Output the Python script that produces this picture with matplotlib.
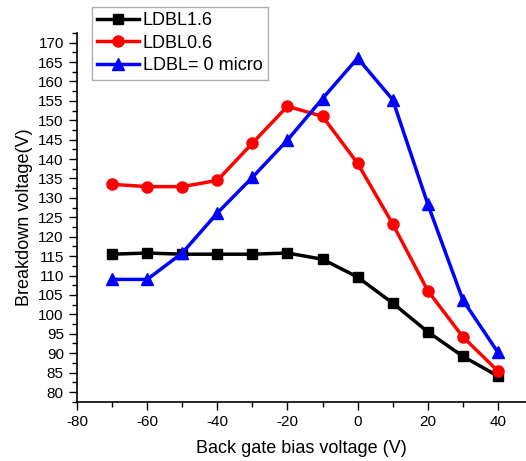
import matplotlib.pyplot as plt
from matplotlib.ticker import MultipleLocator

plt.rcParams['font.family'] = ['Liberation Sans', 'DejaVu Sans']
plt.rcParams['axes.unicode_minus'] = False

gateV = [-70, -60, -50, -40, -30, -20, -10, 0, 10, 20, 30, 40]
ldbl16 = [115.5, 115.8, 115.5, 115.5, 115.5, 115.8, 114.2, 109.6, 102.9, 95.5, 89.2, 84.1]
ldbl06 = [133.5, 132.9, 132.9, 134.5, 144.1, 153.6, 151.0, 138.9, 123.3, 106.1, 94.2, 85.4]
ldbl0 = [109.0, 109.0, 115.8, 126.1, 135.3, 144.9, 155.6, 166.0, 155.3, 128.4, 103.7, 90.2]

fig = plt.figure(figsize=(5.26, 4.61), dpi=100)
ax = fig.add_axes([0.1464, 0.1286, 0.8536, 0.80])

ax.plot(gateV, ldbl16, '-s', color='k', lw=2.5, ms=7, label='LDBL1.6')
ax.plot(gateV, ldbl06, '-o', color='r', lw=2.5, ms=8, label='LDBL0.6')
ax.plot(gateV, ldbl0, '-^', color='b', lw=2.5, ms=9, label='LDBL= 0 micro')

ax.set_xlim(-80, 48)
ax.set_ylim(77.5, 172.5)
ax.xaxis.set_major_locator(MultipleLocator(20))
ax.xaxis.set_minor_locator(MultipleLocator(10))
ax.yaxis.set_major_locator(MultipleLocator(5))
ax.yaxis.set_minor_locator(MultipleLocator(2.5))
ax.tick_params(which='both', direction='out', labelsize=11, width=1)
ax.tick_params(which='major', length=6)
ax.tick_params(which='minor', length=3.5)
ax.spines['top'].set_visible(False)
ax.spines['right'].set_visible(False)
ax.spines['left'].set_linewidth(1.2)
ax.spines['bottom'].set_linewidth(1.2)

ax.set_xlabel('Back gate bias voltage (V)', fontsize=13, labelpad=8)
ax.set_ylabel('Breakdown voltage(V)', fontsize=13)

leg = fig.legend(loc='upper left', bbox_to_anchor=(0.175, 0.985), fontsize=13,
                 frameon=True, fancybox=False, edgecolor='#999999',
                 handlelength=2.3, handletextpad=0.2, borderpad=0.3,
                 labelspacing=0.3, borderaxespad=0)

fig.savefig('out.png', dpi=100)
